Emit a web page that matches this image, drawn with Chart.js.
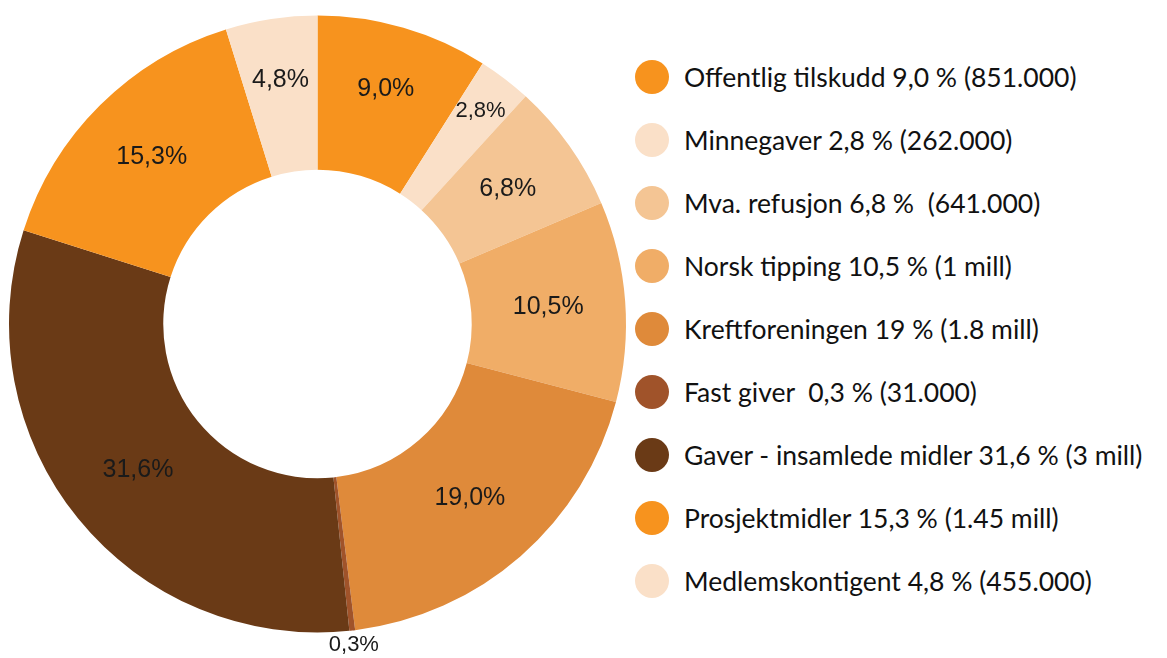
<!DOCTYPE html>
<html lang="no">
<head>
  <meta charset="UTF-8">
  <title>Inntekter</title>
  <style>
    body {
      margin: 0;
      background: #fff;
      width: 1167px;
      height: 658px;
      position: relative;
      overflow: hidden;
    }
    #chartBox {
      position: absolute;
      left: 0;
      top: 0;
      width: 634px;
      height: 658px;
    }
    #legend {
      position: absolute;
      left: 635px;
      top: 45px;
      margin: 0;
      padding: 0;
      list-style: none;
      font-family: Lato, sans-serif;
      font-size: 26.5px;
      color: #111;
    }
    #legend li {
      display: flex;
      align-items: center;
      height: 63px;
      white-space: pre;
    }
    #legend .dot {
      width: 34px;
      height: 34px;
      border-radius: 50%;
      margin-right: 15px;
      flex: none;
    }
  </style>
  <script src="https://cdn.jsdelivr.net/npm/chart.js"></script>
</head>
<body>
  <div id="chartBox"><canvas id="donut"></canvas></div>
  <ul id="legend"></ul>

  <script>
    const categories = [
      'Offentlig tilskudd', 'Minnegaver', 'Mva. refusjon', 'Norsk tipping',
      'Kreftforeningen', 'Fast giver', 'Gaver - insamlede midler',
      'Prosjektmidler', 'Medlemskontigent'
    ];
    const shares = [9.0, 2.8, 6.8, 10.5, 19.0, 0.3, 31.6, 15.3, 4.8];
    const sliceLabels = ['9,0%', '2,8%', '6,8%', '10,5%', '19,0%', '0,3%', '31,6%', '15,3%', '4,8%'];
    const legendTexts = [
      'Offentlig tilskudd 9,0 % (851.000)',
      'Minnegaver 2,8 % (262.000)',
      'Mva. refusjon 6,8 %  (641.000)',
      'Norsk tipping 10,5 % (1 mill)',
      'Kreftforeningen 19 % (1.8 mill)',
      'Fast giver  0,3 % (31.000)',
      'Gaver - insamlede midler 31,6 % (3 mill)',
      'Prosjektmidler 15,3 % (1.45 mill)',
      'Medlemskontigent 4,8 % (455.000)'
    ];
    const colors = [
      '#f7931e', '#fae0c8', '#f4c594', '#f0ad67', '#df8a3a',
      '#a0532a', '#6a3a16', '#f7931e', '#fae0c8'
    ];

    // labels in the middle of each slice, tiny ones outside the ring
    const sliceText = {
      id: 'sliceText',
      afterDatasetsDraw(chart) {
        const ctx = chart.ctx;
        const meta = chart.getDatasetMeta(0);
        ctx.save();
        ctx.fillStyle = '#1a1a1a';
        ctx.textAlign = 'center';
        ctx.textBaseline = 'middle';
        meta.data.forEach((arc, i) => {
          const mid = (arc.startAngle + arc.endAngle) / 2;
          const up = Math.max(0, -Math.sin(mid));
          let r = (arc.innerRadius + arc.outerRadius) / 2 + 16 * Math.pow(up, 4);
          let size = 25;
          if (shares[i] < 1) { r = arc.outerRadius + 14; size = 22; }
          else if (shares[i] < 4) { r = arc.outerRadius - 40; size = 22; }
          ctx.font = size + 'px "Liberation Sans", Arial, sans-serif';
          ctx.fillText(sliceLabels[i], arc.x + Math.cos(mid) * r, arc.y + Math.sin(mid) * r);
        });
        ctx.restore();
      }
    };

    new Chart(document.getElementById('donut'), {
      type: 'doughnut',
      data: {
        labels: categories,
        datasets: [{
          data: shares,
          backgroundColor: colors,
          borderWidth: 0
        }]
      },
      options: {
        responsive: true,
        maintainAspectRatio: false,
        animation: false,
        cutout: '50%',
        layout: { padding: { left: 9, right: 8, top: 15, bottom: 25 } },
        plugins: {
          legend: { display: false },
          tooltip: { enabled: false }
        }
      },
      plugins: [sliceText]
    });

    const legend = document.getElementById('legend');
    legendTexts.forEach((t, i) => {
      const li = document.createElement('li');
      const dot = document.createElement('span');
      dot.className = 'dot';
      dot.style.background = colors[i];
      li.appendChild(dot);
      li.appendChild(document.createTextNode(t));
      legend.appendChild(li);
    });
  </script>
</body>
</html>
